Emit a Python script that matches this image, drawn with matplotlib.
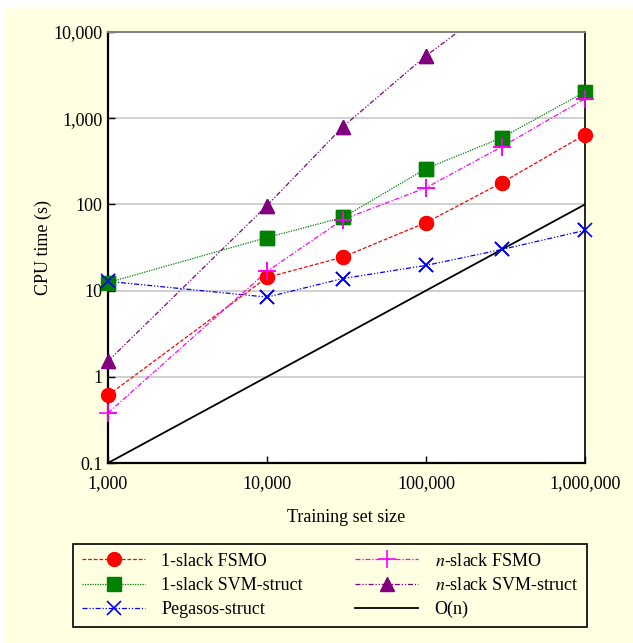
import matplotlib
matplotlib.use('Agg')
import matplotlib.pyplot as plt
from matplotlib.patches import Rectangle

plt.rcParams['font.family'] = 'Liberation Serif'
plt.rcParams['mathtext.fontset'] = 'stix'

sizes = [1000, 10000, 30000, 100000, 300000, 1000000]
fsmo_1slack = [0.61, 14.2, 24.5, 61.5, 179, 645]
svm_1slack = [12.4, 41.3, 70.5, 260, 595, 2020]
pegasos = [12.8, 8.4, 13.8, 19.6, 30, 50]
fsmo_nslack = [0.38, 16.7, 66.7, 156, 467, 1680]
svm_nslack = [1.52, 97, 795, 5300, 24000]
svm_nslack_x = [1000, 10000, 30000, 100000, 300000]
on_x = [1000, 1000000]
on_y = [0.1, 100]

xticks = [1000, 10000, 100000, 1000000]
xticklabels = ['1,000', '10,000', '100,000', '1,000,000']
yticks = [0.1, 1, 10, 100, 1000, 10000]
yticklabels = ['0.1', '1', '10', '100', '1,000', '10,000']

fig = plt.figure(figsize=(6.33, 6.43), dpi=100)
fig.patch.set_facecolor('white')
fig.patches.append(Rectangle((6/633, 0), 1, 636/643, transform=fig.transFigure,
                             facecolor='#ffffe1', edgecolor='none', zorder=-10))

ax = fig.add_axes([108/633, 180/643, 477/633, 431/643])
ax.set_facecolor('white')

series = [
    (sizes, fsmo_1slack, dict(color='red', ls=(0, (3, 1.5)), marker='o', ms=10), '1-slack FSMO'),
    (sizes, svm_1slack, dict(color='green', ls=(0, (1, 1)), marker='s', ms=10), '1-slack SVM-struct'),
    (sizes, pegasos, dict(color='blue', ls=(0, (4, 1.5, 1, 1.5, 1, 1.5)), marker='x', ms=10, mew=1.2), 'Pegasos-struct'),
    (sizes, fsmo_nslack, dict(color='magenta', ls=(0, (4, 1.5, 1, 1.5)), marker='+', ms=13, mew=1.2), '$\\mathit{n}$-slack FSMO'),
    (svm_nslack_x, svm_nslack, dict(color='purple', ls=(0, (4, 1.5, 1, 1.5, 1, 1.5)), marker='^', ms=10), '$\\mathit{n}$-slack SVM-struct'),
]
for xs, ys, st, lab in series:
    ax.plot(xs, ys, lw=0.9, label=lab, **st)
    # unclipped markers so points on the frame are drawn whole
    inside = [(x, y) for x, y in zip(xs, ys) if y <= 10000]
    mk = {k: v for k, v in st.items() if k != 'ls'}
    ax.plot([p[0] for p in inside], [p[1] for p in inside], ls='none', clip_on=False, zorder=5, **mk)
ax.plot(on_x, on_y, color='black', lw=1.3, label='O(n)')

ax.set_xscale('log')
ax.set_yscale('log')
ax.set_xlim(1000, 1000000)
ax.set_ylim(0.1, 10000)
ax.set_xticks(xticks)
ax.set_xticklabels(xticklabels)
ax.set_yticks(yticks)
ax.set_yticklabels(yticklabels)
ax.minorticks_off()
ax.tick_params(direction='in', length=5, width=1, labelsize=13)
ax.tick_params(axis='x', pad=9)
ax.tick_params(axis='y', pad=4)
ax.yaxis.grid(True, color='#d0d0d0', lw=1.4)
ax.set_axisbelow(True)
for s in ['left', 'bottom']:
    ax.spines[s].set_linewidth(1.6)
ax.spines['right'].set_linewidth(1.2)
ax.spines['top'].set_color('#808080')
ax.spines['top'].set_linewidth(1.4)

ax.set_xlabel('Training set size', fontsize=13, labelpad=12)
ax.set_ylabel('CPU time (s)', fontsize=13, labelpad=1)

handles, labels = ax.get_legend_handles_labels()
leg = fig.legend(handles, labels, ncol=2, mode='expand',
                 bbox_to_anchor=(73/633, 18/643, 514/633, 79/643), loc='center',
                 fontsize=13, fancybox=False, frameon=True, handlelength=3.5,
                 borderaxespad=0, borderpad=0.5, labelspacing=0.4, handletextpad=0.9)
leg.get_frame().set_facecolor('#ffffe1')
leg.get_frame().set_edgecolor('black')
leg.get_frame().set_linewidth(1.2)
leg.get_frame().set_alpha(1)

fig.savefig('out.png', dpi=100)
